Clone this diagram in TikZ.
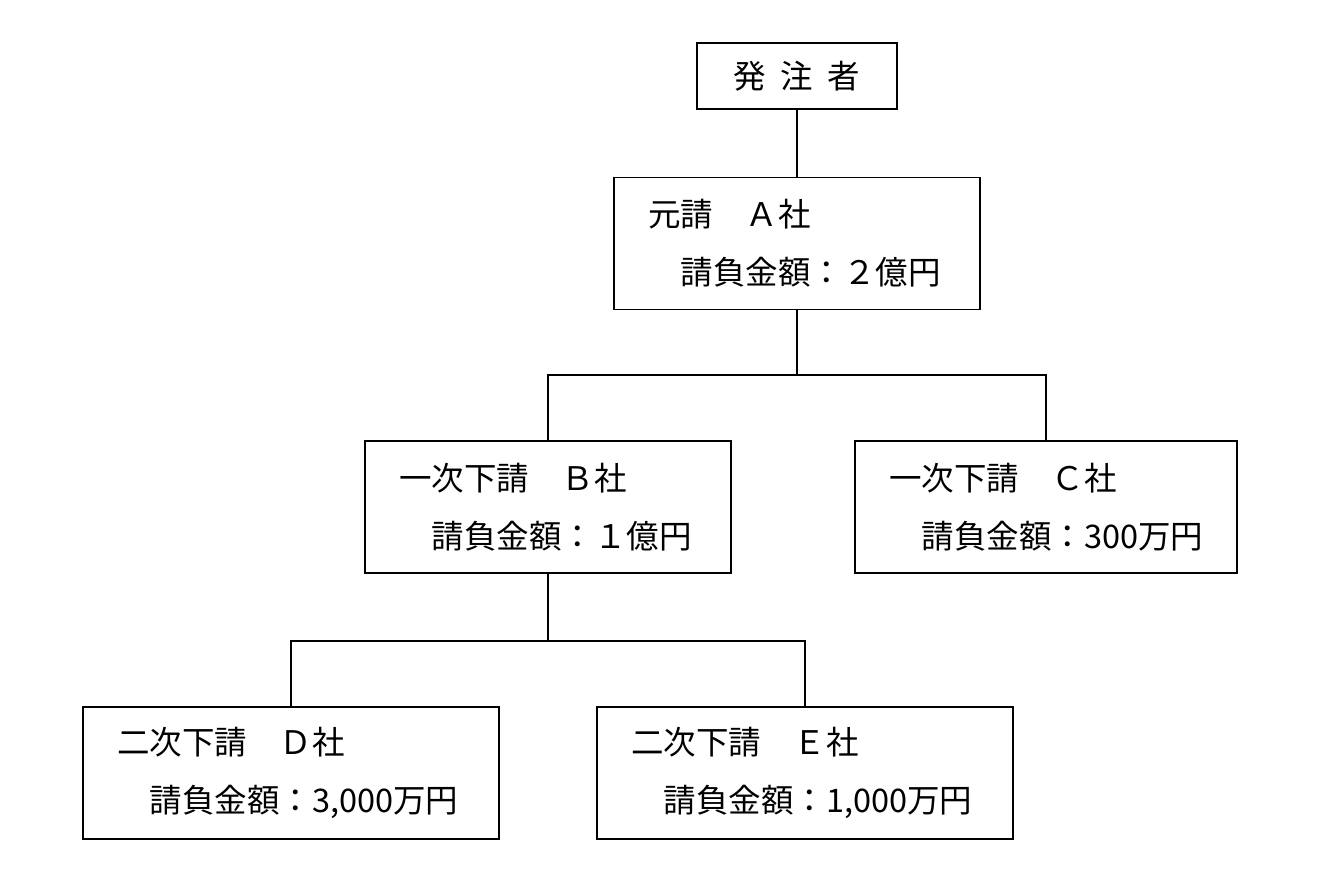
\documentclass[tikz,border=0pt]{standalone}
\usepackage{fontspec}
\newfontfamily\jpfont{Noto Sans CJK JP}
\usetikzlibrary{positioning}

\begin{document}
\begin{tikzpicture}[
  x=0.02cm, y=-0.02cm,
  font=\jpfont\fontsize{18.5pt}{33pt}\selectfont,
  link/.style={line width=0.8pt},
  box/.style={draw, line width=0.8pt, align=left, inner xsep=0.68cm, inner ysep=0pt,
    minimum height=2.64cm},
  mid/.style={box, text width=5.96cm},
  midw/.style={box, text width=6.28cm},
  low/.style={box, text width=6.96cm}
]
\useasboundingbox (0,0) rectangle (1336,885);
\node[draw, line width=0.8pt, minimum width=4cm, minimum height=1.32cm] (own) at (797,76)
  {発\hspace{0.45em}注\hspace{0.45em}者};
\node[mid, below=1.34cm of own] (gen) {元請　Ａ社\\　請負金額：２億円};
\node[mid] (b) at (548,507) {一次下請　Ｂ社\\　請負金額：１億円};
\node[midw] (c) at (1046,507) {一次下請　Ｃ社\\　請負金額：300万円};
\node[low] (d) at (291,773) {二次下請　Ｄ社\\　請負金額：3,000万円};
\node[low] (e) at (805,773) {二次下請　Ｅ社\\　請負金額：1,000万円};
\coordinate (j1) at (797,375);
\coordinate (j2) at (548,641);
\draw[link] (own) -- (gen);
\draw[link] (gen) -- (j1);
\draw[link] (b.north) |- (j1) -| (c.north);
\draw[link] (b) -- (j2);
\draw[link] (d.north) |- (j2) -| (e.north);
\end{tikzpicture}
\end{document}
